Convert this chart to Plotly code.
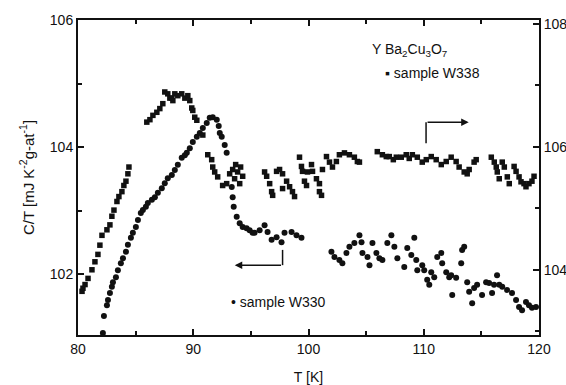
import plotly.graph_objects as go

# Sample W338 (square markers, right axis)
t_w338 = [80.35, 80.43, 80.61, 80.87, 81.21, 81.47, 81.73, 81.90, 82.08, 82.51, 82.77, 82.94, 83.12, 83.38, 83.55,
          83.81, 83.98, 84.16, 84.33, 84.42,
          85.97, 86.24, 86.50, 86.84, 87.10, 87.36, 87.53, 87.79, 87.97, 88.14, 88.23, 88.40, 88.66, 89.00, 89.27,
          89.53, 89.70, 89.87, 89.96, 90.13, 90.31, 90.83, 91.26, 91.60, 91.69, 91.86, 92.12, 92.55, 92.90,
          93.16, 93.42, 93.59, 93.85, 94.03, 94.29, 93.68, 94.11,
          96.19, 96.37, 96.63, 96.80, 96.89, 97.23, 97.49, 97.75, 97.75, 98.10, 98.36, 98.61, 98.79, 99.22, 99.39,
          99.48, 99.65, 99.83, 99.91, 100.26, 100.35, 100.69, 100.95, 100.95, 101.13,
          101.21, 101.56, 101.82, 102.08, 102.42, 102.68, 103.12, 103.55, 103.98, 104.24, 104.42,
          105.97, 106.41, 106.75, 107.01, 107.36, 107.62, 108.05, 108.48, 108.74, 109.01, 109.44, 109.87, 110.22,
          110.65, 111.08, 111.52, 111.95, 112.38, 112.81, 113.07, 113.51, 113.77, 113.94, 114.37, 114.55,
          115.86, 116.12, 116.29, 116.38, 116.55, 116.81, 116.99, 117.25, 117.42, 117.84, 118.01, 118.27, 118.44,
          118.70, 118.87, 119.13, 119.39, 119.57]
c_w338 = [103.65, 103.70, 103.76, 103.86, 104.00, 104.13, 104.25, 104.40, 104.56, 104.65, 104.73, 104.87, 104.97,
          105.11, 105.19, 105.27, 105.37, 105.44, 105.56, 105.67,
          106.40, 106.44, 106.51, 106.56, 106.62, 106.70, 106.89, 106.86, 106.79, 106.79, 106.75, 106.86, 106.83,
          106.86, 106.79, 106.83, 106.75, 106.63, 106.59, 106.48, 106.43, 106.19, 105.87, 105.79, 105.67, 105.59,
          105.51, 105.37, 105.40,
          105.56, 105.63, 105.48, 105.59, 105.40, 105.52, 105.71, 105.67,
          105.59, 105.52, 105.40, 105.27, 105.21, 105.60, 105.63, 105.56, 105.32, 105.44, 105.35, 105.27, 105.19,
          105.83, 105.68, 105.60, 105.44, 105.37, 105.59, 105.71, 105.60, 105.48, 105.40, 105.27, 105.21,
          105.63, 105.84, 105.75, 105.67, 105.76, 105.87, 105.90, 105.87, 105.83, 105.76, 105.75,
          105.92, 105.87, 105.84, 105.84, 105.79, 105.83, 105.83, 105.87, 105.81, 105.87, 105.83, 105.75, 105.79,
          105.84, 105.79, 105.71, 105.76, 105.83, 105.76, 105.67, 105.59, 105.56, 105.63, 105.75, 105.79,
          105.83, 105.75, 105.67, 105.59, 105.48, 105.75, 105.67, 105.51, 105.40, 105.68, 105.60, 105.51, 105.43,
          105.40, 105.35, 105.40, 105.44, 105.52]

# Sample W330 (round markers, left axis)
t_w330 = [82.16, 82.25, 82.51, 82.60, 82.77, 82.94, 83.03, 83.29, 83.46, 83.72, 83.90, 84.16, 84.33, 84.59, 84.76,
          85.02, 85.20, 85.45, 85.63, 85.89, 86.06, 86.41, 86.67, 86.93, 87.27, 87.53, 87.79, 88.14, 88.40, 88.66,
          89.00, 89.27, 89.44, 89.70, 89.96, 90.31, 90.57, 90.83, 91.17, 91.43, 91.69, 92.04, 92.21, 92.30, 92.47,
          92.73, 92.90, 93.34, 93.42, 93.51, 93.77, 94.03, 94.29, 94.63, 94.89, 95.15, 95.32, 95.76, 96.19, 96.45,
          96.80, 97.23, 97.66, 97.92, 98.53, 98.96, 99.39,
          101.99, 102.25, 102.68, 102.94, 103.29, 103.55, 103.98, 104.42, 104.60, 104.68, 105.12, 105.29, 105.55,
          105.89, 106.15, 106.41, 106.84, 107.19, 107.45, 107.71, 108.31, 108.57, 108.92, 109.18, 109.35, 109.44,
          109.87, 110.04, 110.30, 110.48, 110.65, 110.91, 111.17, 111.52, 111.60, 111.95, 112.21, 112.38, 112.47,
          112.81, 113.25, 113.33, 113.51, 113.77, 113.94, 114.20, 114.37, 114.63, 115.06, 115.41, 115.67, 115.93,
          116.10, 116.36, 116.55, 116.81, 117.23, 117.66, 118.01, 118.27, 118.53, 118.87, 119.13, 119.39, 119.74]
c_w330 = [101.07, 101.34, 101.51, 101.59, 101.70, 101.80, 101.87, 101.95, 102.06, 102.17, 102.25, 102.35, 102.46,
          102.57, 102.65, 102.74, 102.85, 102.96, 103.01, 103.06, 103.12, 103.17, 103.21, 103.28, 103.35, 103.43,
          103.51, 103.56, 103.64, 103.72, 103.83, 103.87, 103.91, 103.98, 104.08, 104.16, 104.22, 104.30, 104.38,
          104.46, 104.47, 104.43, 104.33, 104.22, 104.16, 104.03, 103.91, 103.37, 103.21, 103.06, 102.90, 102.80,
          102.74, 102.72, 102.69, 102.65, 102.65, 102.69, 102.77, 102.66, 102.54, 102.58, 102.50, 102.65, 102.66,
          102.61, 102.57,
          102.35, 102.27, 102.22, 102.17, 102.33, 102.43, 102.49, 102.61, 102.50, 102.33, 102.27, 102.14, 102.49,
          102.33, 102.25, 102.22, 102.49, 102.61, 102.43, 102.25, 102.11, 102.41, 102.30, 102.57, 102.22, 102.06,
          102.14, 102.06, 101.91, 101.83, 102.03, 101.95, 102.27, 102.33, 102.17, 102.03, 101.95, 101.98, 101.67,
          101.94, 102.17, 102.38, 102.43, 101.87, 101.72, 101.54, 101.78, 101.83, 101.67, 101.87, 101.86, 101.70,
          101.83, 101.98, 101.83, 101.80, 101.75, 101.70, 101.59, 101.48, 101.43, 101.56, 101.51, 101.47, 101.48]

x_ticks = [80, 90, 100, 110, 120]
y_left_ticks = [102, 104, 106]
y_right_ticks = [104, 106, 108]

FONT = "Liberation Sans"
INK = "#111111"

fig = go.Figure()
fig.add_trace(go.Scatter(x=t_w338, y=c_w338, mode="markers", yaxis="y2",
                         marker=dict(symbol="square", size=5.5, color=INK), showlegend=False))
fig.add_trace(go.Scatter(x=t_w330, y=c_w330, mode="markers", yaxis="y",
                         marker=dict(symbol="circle", size=6, color=INK), showlegend=False))

axis_common = dict(showgrid=False, zeroline=False, showline=True, linecolor=INK, linewidth=2,
                   ticks="inside", tickcolor=INK, tickwidth=1.5, ticklen=6, automargin=False,
                   tickfont=dict(family=FONT, size=14, color=INK))

fig.update_layout(
    width=566, height=385,
    margin=dict(l=78, r=27, t=20, b=50),
    paper_bgcolor="white", plot_bgcolor="white",
    xaxis=dict(range=[80, 120], tickvals=x_ticks, mirror="ticks",
               minor=dict(dtick=5, tick0=80, ticks="inside", ticklen=4, tickcolor=INK),
               title=dict(text="T [K]", font=dict(family=FONT, size=14, color=INK), standoff=16),
               **axis_common),
    yaxis=dict(range=[101.04, 106], tickvals=y_left_ticks,
               minor=dict(dtick=1, tick0=101, ticks="inside", ticklen=4, tickcolor=INK),
               title=dict(text="C/T [mJ K<sup>-2</sup>g-at<sup>-1</sup>]",
                          font=dict(family=FONT, size=15, color=INK), standoff=12),
               **axis_common),
    yaxis2=dict(range=[102.94, 108.06], tickvals=y_right_ticks, overlaying="y", side="right",
                minor=dict(dtick=1, tick0=103, ticks="inside", ticklen=4, tickcolor=INK),
                **axis_common),
)

fig.add_annotation(x=108.75, y=105.53, xref="x", yref="y", showarrow=False,
                   text="Y Ba<sub>2</sub>Cu<sub>3</sub>O<sub>7</sub>",
                   font=dict(family=FONT, size=14, color=INK))
fig.add_annotation(x=106.5, y=105.17, xref="x", yref="y", showarrow=False, xanchor="left",
                   text="\u25aa sample W338", font=dict(family=FONT, size=14, color=INK))
fig.add_annotation(x=93.1, y=101.56, xref="x", yref="y", showarrow=False, xanchor="left",
                   text="\u2022 sample W330", font=dict(family=FONT, size=14, color=INK))

# arrows
fig.add_shape(type="line", x0=110.2, x1=110.2, y0=104.06, y1=104.39, xref="x", yref="y",
              line=dict(color=INK, width=1.5))
fig.add_annotation(x=113.9, y=104.39, ax=110.2, ay=104.39, xref="x", yref="y", axref="x", ayref="y",
                   showarrow=True, arrowhead=2, arrowsize=1, arrowwidth=1.5, arrowcolor=INK, text="")
fig.add_shape(type="line", x0=97.75, x1=97.75, y0=102.38, y1=102.14, xref="x", yref="y",
              line=dict(color=INK, width=1.5))
fig.add_annotation(x=93.6, y=102.14, ax=97.75, ay=102.14, xref="x", yref="y", axref="x", ayref="y",
                   showarrow=True, arrowhead=2, arrowsize=1, arrowwidth=1.5, arrowcolor=INK, text="")

fig.write_html("out.html")
